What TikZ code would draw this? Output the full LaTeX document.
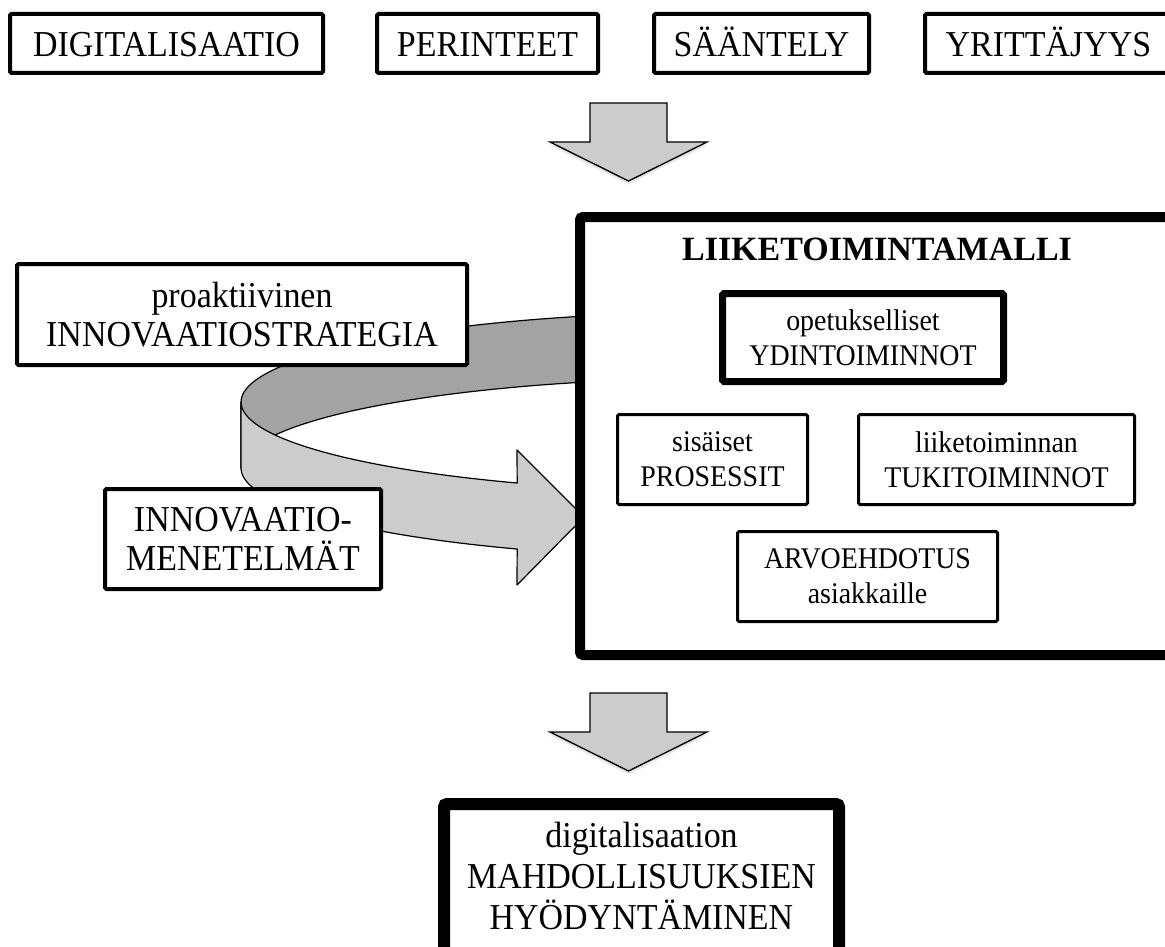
\documentclass[tikz,border=0pt]{standalone}
\usepackage{fontspec}
\setmainfont{Liberation Serif}[FakeStretch=0.93]
\newfontfamily\titlefont{Liberation Serif}
\definecolor{ringdark}{gray}{0.64}
\definecolor{ringlight}{gray}{0.80}
\definecolor{arrowfill}{gray}{0.80}
\tikzset{
  box/.style={draw, rectangle, fill=white, align=center, inner sep=0pt,
    rounded corners=1.5pt, font=\fontsize{36.5}{39}\selectfont},
  topbox/.style={box, line width=4pt, text height=27pt, text depth=0pt, minimum height=59pt},
  innerbox/.style={box, font=\fontsize{30}{35}\selectfont},
  thinframe/.style={line width=3pt},
  midframe/.style={line width=4pt},
  thickframe/.style={line width=7pt},
  heavyframe/.style={line width=10pt, rounded corners=3pt},
  ringedge/.style={draw=black, line width=1.2pt, line join=round},
  blockarrow/.style={draw=black, fill=arrowfill, line width=1.3pt, line join=miter},
  downarr/.pic={
    \foreach \d in {1,2,3,4}
      \fill[black, fill opacity=0.045, shift={(0,\d)}]
        (-38.5,0) -- (38.5,0) -- (38.5,39) -- (78.5,39) -- (0,78) -- (-78.5,39) -- (-38.5,39) -- cycle;
    \path[blockarrow]
        (-38.5,0) -- (38.5,0) -- (38.5,39) -- (78.5,39) -- (0,78) -- (-78.5,39) -- (-38.5,39) -- cycle;
  }
}
\begin{document}
\begin{tikzpicture}[x=1pt, y=-1pt]
\useasboundingbox (0,0) rectangle (1165,947);

% top row
\node[topbox, minimum width=313pt] (dig) at (166.5,43.5) {DIGITALISAATIO};
\node[topbox, minimum width=221pt] (per) at (487.5,43.5) {PERINTEET};
\node[topbox, minimum width=215pt] (saa) at (761.5,43.5) {SÄÄNTELY};
\node[topbox, minimum width=247pt] (yri) at (1048.5,43.5) {YRITTÄJYYS};

% top block arrow
\coordinate (toparr) at (628.5,103);
\pic at (toparr) {downarr};

% ring: back (inner surface)
\path[ringedge, fill=ringdark]
  plot[domain=180:300, samples=60, variable=\t] ({730+489*cos(\t)},{402+90*sin(\t)})
  -- plot[domain=300:180, samples=60, variable=\t] ({730+489*cos(\t)},{468+90*sin(\t)})
  -- cycle;

\node[box, midframe, minimum width=450pt, minimum height=101pt] (strat) at (242,314.5)
  {proaktiivinen\\INNOVAATIOSTRATEGIA};

% ring: front with arrow head
\path[ringedge, fill=ringlight]
  plot[domain=180:115.8, samples=50, variable=\t] ({730+489*cos(\t)},{402+90*sin(\t)})
  -- (517,450) -- (584,517) -- (517,585)
  -- plot[domain=115.8:180, samples=50, variable=\t] ({730+489*cos(\t)},{468+90*sin(\t)})
  -- cycle;

\node[box, midframe, minimum width=276pt, minimum height=100pt] (meth) at (243,539)
  {INNOVAATIO-\\MENETELMÄT};

% business model frame
\node[box, heavyframe, minimum width=600pt, minimum height=438pt] (bm) at (880,436) {};
\node[font=\titlefont\bfseries\fontsize{34}{39}\selectfont, inner sep=0pt] (bmtitle) at (877,249) {LIIKETOIMINTAMALLI};

\node[innerbox, thickframe, minimum width=281pt, minimum height=88pt] (core) at (863,337.5)
  {opetukselliset\\YDINTOIMINNOT};
\node[innerbox, thinframe, minimum width=190pt, minimum height=90pt] (proc) at (712.5,459.5)
  {sisäiset\\PROSESSIT};
\node[innerbox, thinframe, minimum width=276pt, minimum height=90pt] (supp) at (996.5,459.5)
  {liiketoiminnan\\TUKITOIMINNOT};
\node[innerbox, thinframe, minimum width=260pt, minimum height=90pt] (value) at (867.5,576.5)
  {ARVOEHDOTUS\\asiakkaille};

% bottom block arrow
\coordinate (botarr) at (628.5,693);
\pic at (botarr) {downarr};

% result box
\node[box, line width=12pt, rounded corners=3pt, minimum width=395pt, minimum height=196pt] (res) at (641.5,902) {};
\node[align=center, inner sep=0pt, font=\fontsize{36.5}{41}\selectfont] (restext) at (641.5,876.5)
  {digitalisaation\\MAHDOLLISUUKSIEN\\HYÖDYNTÄMINEN};
\end{tikzpicture}
\end{document}
